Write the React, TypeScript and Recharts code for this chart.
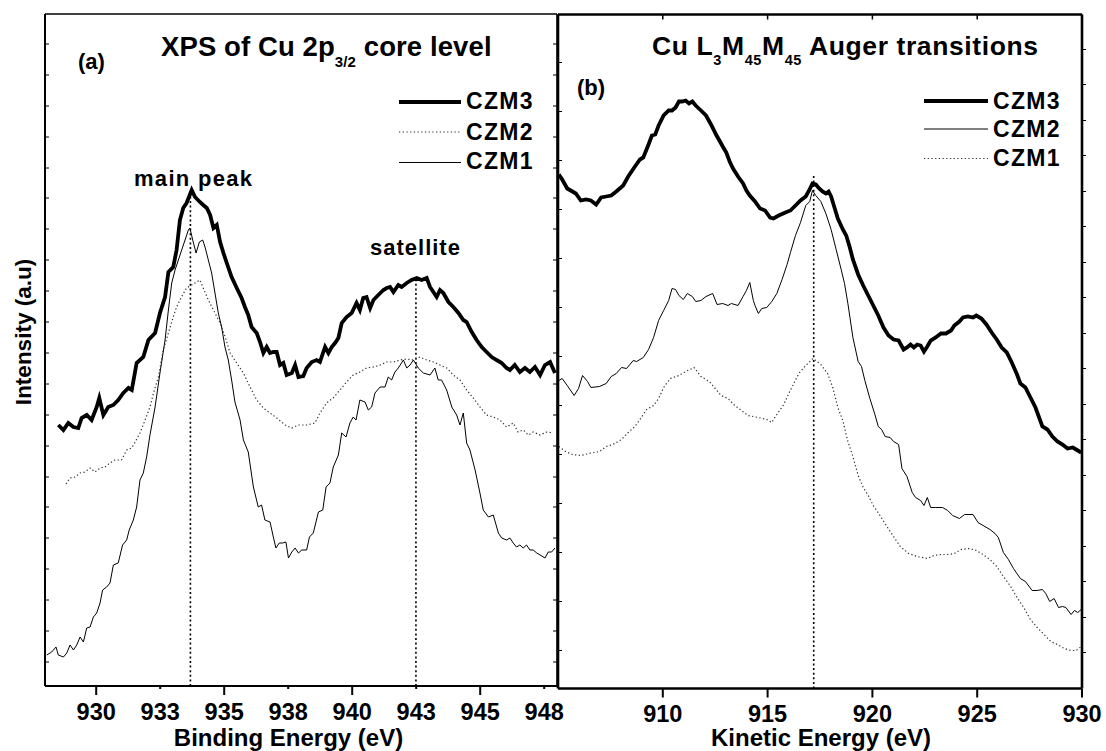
import React from 'react';
import { LineChart, Line, XAxis, YAxis, ReferenceLine } from 'recharts';

type P = [number, number];

// ---------- axes / ticks ----------
const xpsDomain: [number, number] = [928, 948];
const xpsTicks = [930, 932.5, 935, 937.5, 940, 942.5, 945, 947.5];
const xpsMajorTicks = [930, 935, 940, 945];
const xpsIntensityDomain: [number, number] = [0, 672];
const xpsIntensityTicks = [24, 55, 86, 117, 148, 179, 209, 240, 271, 302, 333, 364, 395, 426, 457, 488, 518, 549, 580, 611, 642];

const augerDomain: [number, number] = [905, 930];
const augerTicks = [910, 915, 920, 925, 930];
const augerIntensityDomain: [number, number] = [0, 674];
const augerLeftTicks = [38, 87, 136, 185, 234, 283, 332, 381, 430, 479, 528, 577, 626];
const augerRightTicks = [36, 71, 107, 142, 178, 213, 249, 284, 320, 355, 391, 426, 462, 497, 533, 568, 604, 639];

// peak marker lines (position eV, top intensity)
const xpsPeakMarkers = [
  { x: 933.68, top: 494 },
  { x: 942.49, top: 406 },
];
const augerPeakMarkers = [{ x: 917.2, top: 515 }];

// ---------- XPS Cu 2p3/2 (binding energy eV, intensity a.u.) ----------
const xpsCZM3: P[] = [
  [928.52, 261], [928.72, 256], [928.91, 263], [929.11, 259], [929.3, 258], [929.43, 268], [929.63, 271], [929.82, 266],
  [930.02, 279], [930.12, 288], [930.28, 271], [930.47, 279], [930.67, 281], [930.86, 286], [931.06, 293], [931.26, 298],
  [931.39, 296], [931.58, 323], [931.84, 329], [932.04, 346], [932.3, 353], [932.49, 373], [932.69, 389], [932.82, 414],
  [933.01, 419], [933.14, 436], [933.27, 466], [933.4, 478], [933.53, 483], [933.73, 496], [933.86, 489], [934.05, 484],
  [934.18, 481], [934.32, 478], [934.45, 471], [934.58, 458], [934.71, 461], [934.84, 444], [934.97, 433], [935.1, 423],
  [935.29, 409], [935.49, 398], [935.68, 388], [935.81, 379], [935.94, 371], [936.07, 359], [936.27, 353], [936.4, 344],
  [936.53, 333], [936.66, 339], [936.79, 333], [936.92, 334], [937.05, 334], [937.18, 321], [937.31, 323], [937.44, 311],
  [937.64, 313], [937.77, 321], [937.9, 309], [938.09, 310], [938.22, 318], [938.42, 324], [938.61, 326], [938.74, 324],
  [938.94, 339], [939.07, 333], [939.2, 339], [939.33, 343], [939.46, 348], [939.59, 363], [939.78, 369], [939.98, 373],
  [940.17, 383], [940.3, 376], [940.43, 388], [940.56, 389], [940.7, 378], [940.83, 386], [941.02, 391], [941.22, 396],
  [941.35, 398], [941.48, 399], [941.61, 394], [941.8, 401], [941.93, 399], [942.13, 403], [942.32, 406], [942.52, 408],
  [942.71, 406], [942.91, 408], [943.04, 399], [943.17, 394], [943.3, 389], [943.43, 396], [943.56, 393], [943.76, 384],
  [943.95, 379], [944.15, 373], [944.34, 366], [944.47, 364], [944.67, 354], [944.86, 346], [945.06, 339], [945.25, 334],
  [945.45, 329], [945.64, 326], [945.84, 323], [946.03, 318], [946.16, 316], [946.35, 321], [946.55, 314], [946.75, 318],
  [946.94, 314], [947.14, 319], [947.34, 311], [947.53, 321], [947.73, 324], [947.92, 313],
];

const xpsCZM2: P[] = [
  [928.82, 202], [928.98, 208], [929.17, 209], [929.37, 213], [929.56, 214], [929.76, 218], [929.95, 214], [930.15, 218],
  [930.34, 219], [930.54, 223], [930.73, 226], [930.99, 226], [931.19, 236], [931.39, 238], [931.52, 244], [931.71, 253],
  [931.91, 266], [932.1, 279], [932.24, 293], [932.43, 309], [932.62, 336], [932.82, 353], [933.01, 369], [933.14, 379],
  [933.33, 389], [933.53, 398], [933.73, 401], [933.86, 403], [934.05, 406], [934.18, 398], [934.38, 386], [934.58, 376],
  [934.84, 363], [935.04, 349], [935.23, 333], [935.49, 323], [935.75, 313], [936.01, 299], [936.27, 286], [936.53, 278],
  [936.79, 273], [937.05, 268], [937.38, 261], [937.64, 258], [937.9, 261], [938.22, 261], [938.55, 263], [938.74, 273],
  [939.0, 283], [939.26, 288], [939.52, 296], [939.78, 304], [940.04, 311], [940.3, 314], [940.56, 318], [940.83, 319],
  [941.09, 321], [941.35, 324], [941.61, 324], [941.87, 326], [942.13, 327], [942.39, 326], [942.65, 329], [942.91, 326],
  [943.17, 324], [943.43, 321], [943.69, 318], [943.95, 311], [944.21, 306], [944.47, 296], [944.73, 288], [944.99, 279],
  [945.25, 271], [945.51, 269], [945.77, 266], [946.03, 259], [946.29, 263], [946.48, 254], [946.68, 256], [946.88, 251],
  [947.07, 254], [947.34, 251], [947.6, 254], [947.85, 253],
];

const xpsCZM1: P[] = [
  [928.07, 31], [928.26, 34], [928.43, 39], [928.52, 31], [928.72, 29], [928.85, 33], [928.98, 41], [929.11, 36],
  [929.24, 41], [929.37, 49], [929.5, 44], [929.63, 58], [929.76, 59], [929.89, 69], [930.02, 73], [930.15, 83],
  [930.25, 96], [930.41, 99], [930.54, 103], [930.67, 121], [930.86, 123], [931.03, 141], [931.19, 146], [931.29, 156],
  [931.45, 166], [931.58, 179], [931.71, 206], [931.84, 213], [931.97, 229], [932.1, 251], [932.3, 279], [932.49, 313],
  [932.69, 346], [932.82, 376], [932.95, 403], [933.08, 416], [933.21, 426], [933.34, 436], [933.47, 446], [933.6, 456],
  [933.66, 458], [933.77, 446], [933.9, 433], [934.03, 444], [934.16, 446], [934.25, 439], [934.38, 426], [934.51, 413],
  [934.64, 393], [934.77, 373], [934.9, 359], [935.03, 339], [935.16, 326], [935.29, 306], [935.42, 284], [935.62, 266],
  [935.75, 246], [935.94, 234], [936.14, 199], [936.33, 179], [936.46, 181], [936.59, 166], [936.79, 164], [936.92, 149],
  [937.02, 138], [937.15, 143], [937.28, 143], [937.41, 144], [937.51, 128], [937.64, 134], [937.77, 138], [937.9, 133],
  [938.03, 136], [938.22, 136], [938.33, 149], [938.48, 153], [938.68, 174], [938.85, 176], [938.98, 199], [939.13, 203],
  [939.26, 219], [939.46, 231], [939.59, 253], [939.76, 249], [939.91, 263], [940.04, 269], [940.15, 266], [940.3, 286],
  [940.5, 284], [940.63, 276], [940.76, 279], [940.89, 293], [941.09, 299], [941.28, 299], [941.41, 309], [941.54, 306],
  [941.67, 314], [941.8, 318], [942.0, 326], [942.13, 318], [942.26, 321], [942.39, 326], [942.58, 318], [942.78, 313],
  [943.04, 311], [943.23, 318], [943.36, 306], [943.49, 306], [943.69, 296], [943.89, 279], [944.08, 271], [944.21, 261],
  [944.34, 273], [944.47, 243], [944.6, 236], [944.8, 216], [944.99, 193], [945.12, 176], [945.32, 169], [945.51, 171],
  [945.71, 153], [945.84, 148], [946.03, 146], [946.16, 148], [946.29, 143], [946.42, 139], [946.55, 141], [946.68, 138],
  [946.81, 141], [946.94, 136], [947.07, 136], [947.21, 133], [947.34, 131], [947.53, 128], [947.66, 134], [947.79, 134],
  [947.92, 138],
];

// ---------- Cu L3M45M45 Auger (kinetic energy eV, intensity a.u.) ----------
const augerCZM3: P[] = [
  [905.04, 514], [905.2, 509], [905.44, 500], [905.69, 497], [905.85, 495], [906.09, 488], [906.33, 489], [906.57, 488],
  [906.82, 484], [907.06, 491], [907.3, 492], [907.54, 493], [907.78, 497], [908.11, 503], [908.35, 512], [908.67, 522],
  [908.91, 529], [909.07, 531], [909.32, 544], [909.48, 553], [909.64, 554], [909.8, 563], [910.04, 573], [910.28, 578],
  [910.44, 578], [910.61, 581], [910.77, 587], [910.93, 587], [911.09, 588], [911.25, 585], [911.41, 587], [911.57, 583],
  [911.82, 578], [912.06, 573], [912.3, 564], [912.54, 554], [912.7, 548], [912.86, 542], [913.03, 536], [913.19, 527],
  [913.35, 520], [913.59, 512], [913.83, 505], [913.99, 498], [914.15, 493], [914.4, 487], [914.64, 480], [914.88, 478],
  [915.12, 471], [915.28, 470], [915.53, 473], [915.85, 476], [916.09, 478], [916.33, 483], [916.57, 488], [916.82, 492],
  [916.98, 498], [917.14, 505], [917.3, 504], [917.46, 500], [917.62, 497], [917.78, 495], [917.91, 497], [918.03, 492],
  [918.19, 481], [918.35, 470], [918.59, 459], [918.75, 453], [918.91, 442], [919.07, 429], [919.32, 414], [919.56, 403],
  [919.8, 393], [920.04, 383], [920.28, 373], [920.53, 361], [920.77, 353], [921.01, 349], [921.25, 348], [921.49, 339],
  [921.65, 341], [921.82, 344], [921.98, 341], [922.14, 344], [922.3, 343], [922.46, 337], [922.62, 342], [922.78, 348],
  [923.02, 351], [923.27, 355], [923.51, 355], [923.75, 358], [923.91, 363], [924.15, 367], [924.32, 371], [924.56, 372],
  [924.8, 371], [924.96, 373], [925.2, 370], [925.44, 364], [925.69, 356], [925.93, 349], [926.17, 341], [926.41, 336],
  [926.65, 326], [926.9, 314], [927.06, 305], [927.3, 301], [927.54, 291], [927.78, 281], [928.11, 262], [928.35, 259],
  [928.59, 252], [928.83, 247], [929.07, 244], [929.31, 240], [929.56, 241], [929.8, 238], [929.96, 236],
];

const augerCZM2: P[] = [
  [905.04, 308], [905.2, 310], [905.44, 303], [905.77, 293], [905.98, 300], [906.17, 313], [906.41, 307], [906.57, 301],
  [906.98, 302], [907.3, 305], [907.54, 312], [907.78, 315], [908.03, 321], [908.27, 320], [908.59, 328], [908.75, 327],
  [909.07, 331], [909.32, 339], [909.56, 351], [909.8, 368], [910.04, 378], [910.28, 388], [910.44, 400], [910.61, 399],
  [910.77, 393], [910.98, 389], [911.17, 395], [911.41, 392], [911.57, 387], [911.82, 388], [912.06, 392], [912.38, 395],
  [912.59, 384], [912.86, 385], [913.11, 383], [913.27, 385], [913.59, 383], [913.83, 392], [913.99, 398], [914.15, 406],
  [914.32, 388], [914.4, 383], [914.56, 375], [914.72, 380], [914.96, 381], [915.2, 387], [915.44, 395], [915.69, 409],
  [915.93, 424], [916.09, 436], [916.33, 453], [916.57, 466], [916.82, 483], [917.01, 487], [917.14, 498], [917.3, 493],
  [917.54, 487], [917.78, 475], [918.03, 459], [918.27, 439], [918.51, 419], [918.67, 405], [918.83, 385], [919.07, 351],
  [919.32, 327], [919.48, 322], [919.64, 308], [919.88, 290], [920.12, 274], [920.28, 262], [920.44, 259], [920.61, 252],
  [920.85, 251], [921.01, 247], [921.25, 244], [921.41, 220], [921.65, 212], [921.9, 196], [922.06, 191], [922.3, 188],
  [922.46, 183], [922.62, 191], [922.78, 181], [923.02, 181], [923.35, 181], [923.59, 178], [923.83, 173], [924.15, 170],
  [924.4, 174], [924.8, 174], [925.04, 166], [925.28, 163], [925.61, 159], [925.85, 155], [926.01, 151], [926.25, 136],
  [926.49, 129], [926.73, 120], [927.06, 110], [927.3, 107], [927.62, 98], [927.86, 98], [928.11, 99], [928.27, 95],
  [928.46, 87], [928.67, 90], [928.88, 81], [929.07, 82], [929.23, 81], [929.48, 74], [929.64, 78], [929.8, 76],
  [929.96, 79],
];

const augerCZM1: P[] = [
  [905.04, 242], [905.36, 237], [905.69, 234], [906.09, 233], [906.49, 235], [906.98, 237], [907.3, 242], [907.62, 244],
  [908.03, 249], [908.35, 256], [908.67, 262], [908.91, 269], [909.23, 279], [909.56, 283], [909.8, 290], [910.04, 301],
  [910.36, 310], [910.77, 313], [911.09, 317], [911.49, 321], [911.82, 312], [912.22, 307], [912.46, 301], [912.78, 293],
  [913.11, 290], [913.43, 283], [913.75, 278], [914.07, 273], [914.56, 271], [914.96, 269], [915.2, 266], [915.44, 274],
  [915.77, 284], [916.01, 295], [916.25, 305], [916.49, 315], [916.82, 323], [917.17, 330], [917.54, 324], [917.86, 315],
  [918.11, 301], [918.35, 281], [918.59, 268], [918.83, 247], [919.07, 232], [919.32, 213], [919.56, 201], [919.8, 193],
  [920.04, 183], [920.36, 173], [920.69, 162], [921.01, 152], [921.33, 142], [921.73, 135], [922.14, 132], [922.62, 130],
  [922.94, 133], [923.27, 134], [923.59, 134], [923.91, 135], [924.23, 139], [924.64, 140], [924.96, 138], [925.28, 134],
  [925.61, 129], [925.93, 122], [926.25, 112], [926.57, 103], [926.9, 91], [927.22, 81], [927.54, 69], [927.86, 61],
  [928.19, 54], [928.51, 47], [928.83, 44], [929.15, 40], [929.48, 38], [929.72, 38], [929.96, 42],
];

// ---------- styling ----------
const FONT = "'Liberation Sans', Arial, Helvetica, sans-serif";
const toPts = (arr: P[]) => arr.map(([x, y]) => ({ x, y }));
const noLabel = () => <g />;

function makeBottomTick(major: number[] | null, longLen: number, shortLen: number, labelDy: number) {
  return (props: any) => {
    const { x, y, payload } = props;
    const v = payload.value as number;
    const isMajor = major ? major.includes(v) : true;
    return (
      <g>
        <line x1={x} x2={x} y1={y} y2={y + (isMajor ? longLen : shortLen)} stroke="#000" strokeWidth={2} />
        <text x={x} y={y + labelDy} textAnchor="middle" fontFamily={FONT} fontWeight="bold" fontSize={23.5} fill="#000">
          {Math.round(v)}
        </text>
      </g>
    );
  };
}

const thick = { stroke: '#000', strokeWidth: 3.8 };
const thin = { stroke: '#000', strokeWidth: 1 };
const dotted = { stroke: '#333', strokeWidth: 1.2, strokeDasharray: '1.3 2.4' };

function XpsPanel() {
  return (
    <LineChart width={1106} height={751} margin={{ top: 13, right: 548, bottom: 5, left: 44 }}>
      <XAxis xAxisId="b" type="number" dataKey="x" domain={xpsDomain} ticks={xpsTicks} interval={0} allowDataOverflow
        orientation="bottom" height={60} tickSize={0} tickMargin={0} tickLine={false}
        axisLine={{ stroke: '#000', strokeWidth: 2 }} tick={makeBottomTick(xpsMajorTicks, 9, 3, 34)} />
      <XAxis xAxisId="t" type="number" dataKey="x" domain={xpsDomain} allowDataOverflow orientation="top" height={1}
        tick={false} tickLine={false} axisLine={{ stroke: '#000', strokeWidth: 1.5 }} />
      <YAxis yAxisId="l" type="number" domain={xpsIntensityDomain} ticks={xpsIntensityTicks} interval={0} allowDataOverflow
        orientation="left" width={1} tick={noLabel} tickSize={-4} tickLine={{ stroke: '#000', strokeWidth: 1 }}
        axisLine={{ stroke: '#000', strokeWidth: 2 }} />
      <YAxis yAxisId="r" type="number" domain={xpsIntensityDomain} ticks={xpsIntensityTicks} interval={0} allowDataOverflow
        orientation="right" width={1} tick={noLabel} tickSize={-4} tickLine={{ stroke: '#000', strokeWidth: 1 }}
        axisLine={{ stroke: '#000', strokeWidth: 1.5 }} />
      {xpsPeakMarkers.map((m, i) => (
        <ReferenceLine key={i} xAxisId="b" yAxisId="l" ifOverflow="visible"
          segment={[{ x: m.x, y: 0 }, { x: m.x, y: m.top }]} stroke="#000" strokeWidth={1.6} strokeDasharray="2 2.6" />
      ))}
      <Line xAxisId="b" yAxisId="l" data={toPts(xpsCZM1)} dataKey="y" name="CZM1" type="linear" dot={false} isAnimationActive={false} {...thin} />
      <Line xAxisId="b" yAxisId="l" data={toPts(xpsCZM2)} dataKey="y" name="CZM2" type="linear" dot={false} isAnimationActive={false} {...dotted} />
      <Line xAxisId="b" yAxisId="l" data={toPts(xpsCZM3)} dataKey="y" name="CZM3" type="linear" dot={false} isAnimationActive={false} {...thick} />
    </LineChart>
  );
}

function AugerPanel() {
  return (
    <LineChart width={1106} height={751} margin={{ top: 13.5, right: 23, bottom: 2.5, left: 557 }}>
      <XAxis xAxisId="b" type="number" dataKey="x" domain={augerDomain} ticks={augerTicks} interval={0} allowDataOverflow
        orientation="bottom" height={60} tickSize={0} tickMargin={0} tickLine={false}
        axisLine={{ stroke: '#000', strokeWidth: 2.6 }} tick={makeBottomTick(null, 9, 9, 33)} />
      <XAxis xAxisId="t" type="number" dataKey="x" domain={augerDomain} ticks={augerTicks} interval={0} allowDataOverflow
        orientation="top" height={1} tick={noLabel} tickSize={-5} tickLine={{ stroke: '#000', strokeWidth: 1.5 }}
        axisLine={{ stroke: '#000', strokeWidth: 2.6 }} />
      <YAxis yAxisId="l" type="number" domain={augerIntensityDomain} ticks={augerLeftTicks} interval={0} allowDataOverflow
        orientation="left" width={1} tick={noLabel} tickSize={-4} tickLine={{ stroke: '#000', strokeWidth: 1 }}
        axisLine={{ stroke: '#000', strokeWidth: 2.6 }} />
      <YAxis yAxisId="r" type="number" domain={augerIntensityDomain} ticks={augerRightTicks} interval={0} allowDataOverflow
        orientation="right" width={1} tick={noLabel} tickSize={4} tickLine={{ stroke: '#000', strokeWidth: 1 }}
        axisLine={{ stroke: '#000', strokeWidth: 2.6 }} />
      {augerPeakMarkers.map((m, i) => (
        <ReferenceLine key={i} xAxisId="b" yAxisId="l" ifOverflow="visible"
          segment={[{ x: m.x, y: 0 }, { x: m.x, y: m.top }]} stroke="#000" strokeWidth={1.6} strokeDasharray="2 2.6" />
      ))}
      <Line xAxisId="b" yAxisId="l" data={toPts(augerCZM1)} dataKey="y" name="CZM1" type="linear" dot={false} isAnimationActive={false} {...dotted} />
      <Line xAxisId="b" yAxisId="l" data={toPts(augerCZM2)} dataKey="y" name="CZM2" type="linear" dot={false} isAnimationActive={false} {...thin} />
      <Line xAxisId="b" yAxisId="l" data={toPts(augerCZM3)} dataKey="y" name="CZM3" type="linear" dot={false} isAnimationActive={false} {...thick} />
    </LineChart>
  );
}

const txt = { fontFamily: FONT, fontWeight: 'bold' as const, fill: '#000' };

function LegendRow({ x1, x2, y, tx, ty, label, style }: any) {
  return (
    <g>
      <line x1={x1} x2={x2} y1={y} y2={y} {...style} />
      <text x={tx} y={ty} fontSize={23} letterSpacing={1.3} {...txt}>{label}</text>
    </g>
  );
}

function Overlay() {
  return (
    <svg width={1106} height={751} style={{ position: 'absolute', left: 0, top: 0, pointerEvents: 'none' }}>
      {/* panel (a) */}
      <text x={78} y={68.5} fontSize={22} {...txt}>(a)</text>
      <text x={161} y={55.5} fontSize={27.5} letterSpacing={0.1} {...txt}>
        XPS of Cu 2p<tspan fontSize={15} dy={11}>3/2</tspan><tspan dy={-11}> core level</tspan>
      </text>
      <LegendRow x1={399} x2={461} y={102} tx={466} ty={109} label="CZM3" style={{ stroke: '#000', strokeWidth: 4 }} />
      <LegendRow x1={399} x2={461} y={132} tx={466} ty={139.5} label="CZM2" style={{ stroke: '#333', strokeWidth: 1.2, strokeDasharray: '1.3 2.4' }} />
      <LegendRow x1={399} x2={461} y={162.5} tx={466} ty={169} label="CZM1" style={{ stroke: '#000', strokeWidth: 1 }} />
      <text x={134} y={185.5} fontSize={22} letterSpacing={1.3} {...txt}>main peak</text>
      <text x={370} y={255} fontSize={22} letterSpacing={1} {...txt}>satellite</text>

      {/* panel (b) */}
      <text x={577} y={95} fontSize={22} {...txt}>(b)</text>
      <text x={652} y={55} fontSize={26.5} letterSpacing={0.6} {...txt}>
        Cu L<tspan fontSize={14.5} dy={10}>3</tspan><tspan dy={-10}>M</tspan><tspan fontSize={14.5} dy={10}>45</tspan><tspan dy={-10}>M</tspan><tspan fontSize={14.5} dy={10}>45</tspan><tspan dy={-10}> Auger transitions</tspan>
      </text>
      <LegendRow x1={924} x2={988} y={101} tx={993} ty={108.5} label="CZM3" style={{ stroke: '#000', strokeWidth: 4 }} />
      <LegendRow x1={924} x2={988} y={129} tx={993} ty={137} label="CZM2" style={{ stroke: '#000', strokeWidth: 1 }} />
      <LegendRow x1={924} x2={988} y={158.5} tx={993} ty={166} label="CZM1" style={{ stroke: '#333', strokeWidth: 1.2, strokeDasharray: '1.3 2.4' }} />

      {/* axis titles */}
      <text x={30.5} y={332} fontSize={22.5} textAnchor="middle" transform="rotate(-90 30.5 332)" {...txt}>Intensity (a.u)</text>
      <text x={288.5} y={746} fontSize={24} textAnchor="middle" {...txt}>Binding Energy (eV)</text>
      <text x={821} y={746} fontSize={24} textAnchor="middle" {...txt}>Kinetic Energy (eV)</text>
    </svg>
  );
}

export default function App() {
  return (
    <div style={{ position: 'absolute', left: 0, top: 0, width: 1106, height: 751, background: '#fff', overflow: 'hidden' }}>
      <div style={{ position: 'absolute', left: 0, top: 0 }}>
        <XpsPanel />
      </div>
      <div style={{ position: 'absolute', left: 0, top: 0 }}>
        <AugerPanel />
      </div>
      <Overlay />
    </div>
  );
}
